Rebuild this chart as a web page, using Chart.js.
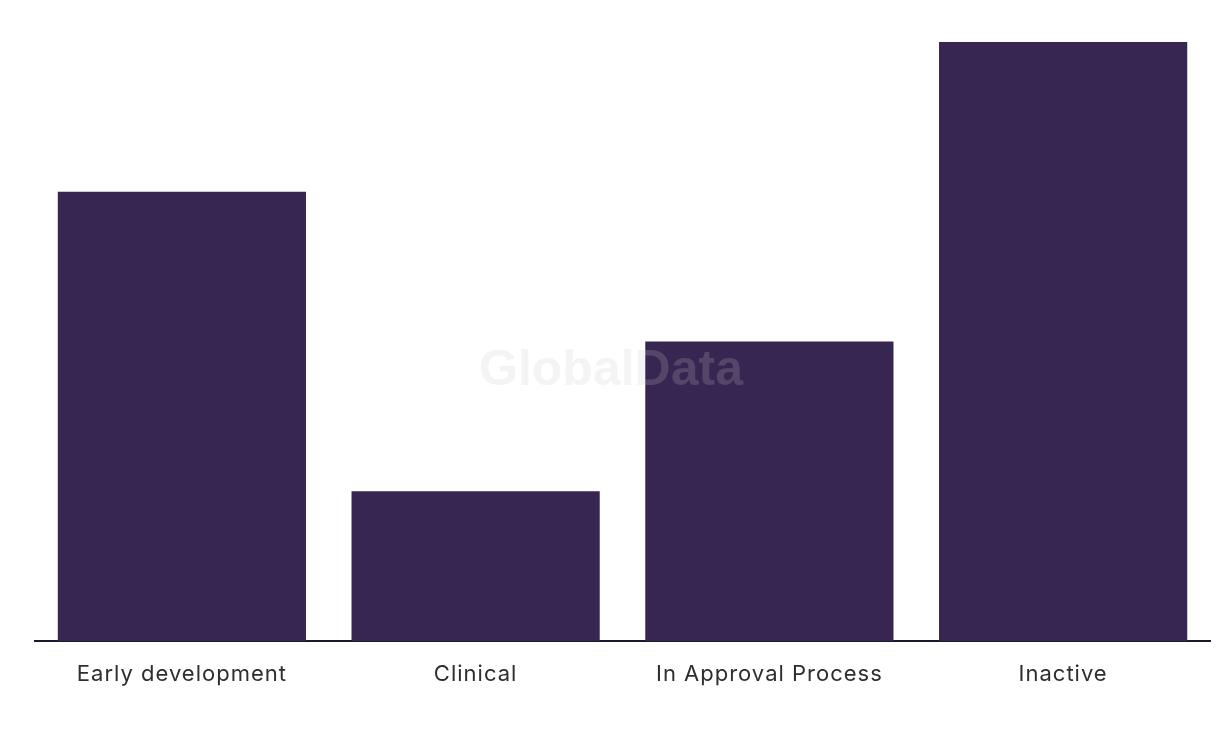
<!DOCTYPE html>
<html>
<head>
<meta charset="utf-8">
<script src="https://cdn.jsdelivr.net/npm/chart.js@4"></script>
<style>
  html, body { margin: 0; padding: 0; background: #fff; }
  #wrap { width: 1220px; height: 736px; }
</style>
</head>
<body>
<div id="wrap"><canvas id="chart"></canvas></div>
<script>
const categories = ['Early development', 'Clinical', 'In Approval Process', 'Inactive'];
const values = [3, 1, 2, 4];

// slightly wider tracking for the axis labels
const tracking = {
    id: 'tracking',
    beforeDraw(chart) { chart.ctx.letterSpacing = '1px'; },
    afterDraw(chart) { chart.ctx.letterSpacing = '0px'; }
};

// watermark drawn over the bars
const watermark = {
    id: 'watermark',
    afterDatasetsDraw(chart) {
        const ctx = chart.ctx;
        ctx.save();
        ctx.letterSpacing = '0px';
        ctx.font = 'bold 50px "Liberation Sans", Arial, sans-serif';
        ctx.fillStyle = 'rgba(200, 200, 200, 0.2)';
        ctx.textAlign = 'center';
        ctx.textBaseline = 'middle';
        ctx.fillText('GlobalData', 611, 371);
        ctx.restore();
    }
};

new Chart(document.getElementById('chart'), {
    type: 'bar',
    data: {
        labels: categories,
        datasets: [{
            data: values,
            backgroundColor: '#372552',
            categoryPercentage: 0.845,
            barPercentage: 1
        }]
    },
    options: {
        responsive: true,
        maintainAspectRatio: false,
        animation: false,
        layout: { padding: { top: 42, left: 35, right: 10, bottom: 0 } },
        plugins: {
            legend: { display: false },
            tooltip: { enabled: false }
        },
        scales: {
            x: {
                grid: { display: false, drawTicks: false },
                border: { display: true, color: '#1c1a2a', width: 2 },
                ticks: {
                    color: '#2e2e2e',
                    padding: 20,
                    font: { family: 'Inter, Roboto, sans-serif', size: 22 }
                },
                afterFit(scale) { scale.height = 95; }
            },
            y: {
                display: false,
                min: 0,
                max: 4
            }
        }
    },
    plugins: [tracking, watermark]
});
</script>
</body>
</html>
